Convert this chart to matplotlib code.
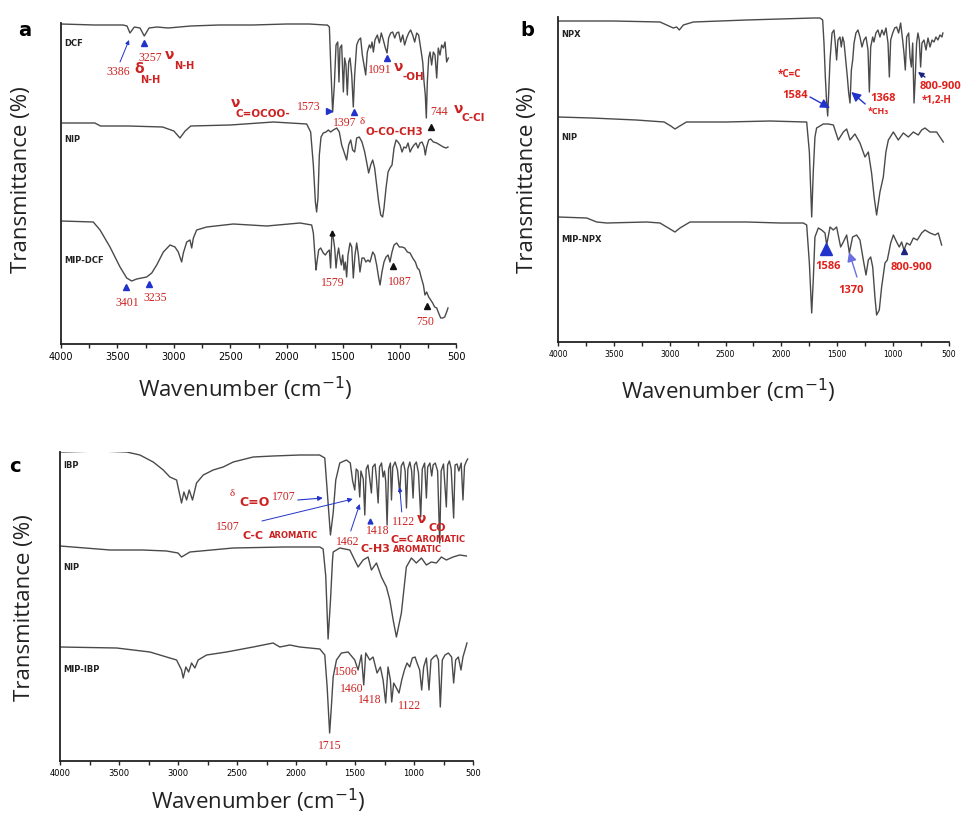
import matplotlib
matplotlib.use("Agg")
import matplotlib.pyplot as plt
from matplotlib.ticker import MultipleLocator

# Stacked FTIR spectra, transmittance in arbitrary units (offset per trace)

# (a) diclofenac
dcf_wn = [4000, 3700, 3450, 3415, 3389, 3350, 3300, 3262, 3220, 3150,
          3050, 2950, 2850, 2600, 2300, 2000, 1800, 1660, 1640, 1622,
          1610, 1593, 1578, 1563, 1548, 1537, 1528, 1513, 1498, 1487,
          1475, 1463, 1451, 1439, 1424, 1410, 1398, 1380, 1362, 1345,
          1330, 1315, 1300, 1286, 1268, 1256, 1244, 1232, 1218, 1197,
          1179, 1162, 1144, 1126, 1111, 1097, 1079, 1061, 1043, 1026,
          1008, 990, 972, 955, 937, 919, 902, 884, 866, 848,
          831, 813, 795, 783, 772, 763, 754, 742, 730, 716,
          701, 686, 671, 657, 642, 627, 612, 597, 583, 568]
dcf_t = [320, 319, 319, 318, 311, 317, 316, 308, 316, 317,
         316, 317, 318, 319, 319, 320, 320, 319, 319, 317,
         279, 232, 259, 299, 302, 262, 296, 299, 252, 286,
         279, 249, 282, 286, 269, 237, 269, 299, 304, 306,
         289, 279, 269, 292, 299, 296, 302, 292, 304, 309,
         301, 311, 304, 296, 291, 306, 311, 312, 306, 311,
         312, 302, 309, 299, 306, 311, 314, 309, 302, 311,
         309, 296, 282, 262, 249, 226, 262, 286, 292, 279,
         292, 289, 266, 296, 289, 299, 296, 302, 282, 286]

nip_a_wn = [4000, 3700, 3650, 3400, 3100, 3000, 2946, 2900, 2850, 2500,
            2119, 1823, 1788, 1764, 1746, 1735, 1723, 1711, 1696, 1676,
            1652, 1631, 1611, 1587, 1557, 1534, 1513, 1492, 1469, 1451,
            1433, 1416, 1398, 1380, 1357, 1333, 1309, 1292, 1274, 1256,
            1238, 1221, 1203, 1185, 1167, 1150, 1138, 1120, 1102, 1085,
            1067, 1049, 1031, 1014, 996, 978, 961, 943, 925, 907,
            890, 872, 854, 837, 819, 801, 783, 772, 760, 742,
            724, 701, 671, 642, 612, 588, 571]
nip_a_t = [221, 221, 218, 218, 217, 213, 206, 213, 218, 219,
           222, 220, 212, 179, 142, 132, 146, 189, 207, 211,
           212, 214, 212, 214, 216, 212, 199, 192, 184, 199,
           204, 194, 192, 206, 207, 202, 192, 182, 171, 179,
           184, 176, 159, 142, 129, 127, 136, 156, 172, 176,
           179, 196, 204, 202, 199, 192, 197, 196, 201, 192,
           196, 199, 201, 196, 201, 202, 197, 189, 197, 204,
           205, 202, 201, 199, 197, 196, 197]

mip_dcf_wn = [4000, 3714, 3654, 3566, 3477, 3418, 3374, 3329, 3241, 3196,
              3152, 3093, 3034, 2990, 2961, 2931, 2916, 2886, 2857, 2842,
              2827, 2798, 2709, 2473, 2177, 1882, 1779, 1764, 1749, 1740,
              1734, 1717, 1699, 1676, 1658, 1640, 1622, 1611, 1599, 1587,
              1575, 1563, 1551, 1540, 1528, 1516, 1504, 1492, 1481, 1469,
              1457, 1439, 1424, 1410, 1395, 1380, 1365, 1351, 1333, 1315,
              1298, 1280, 1262, 1238, 1221, 1203, 1185, 1173, 1156, 1138,
              1120, 1102, 1085, 1067, 1049, 1026, 1002, 978, 955, 931,
              907, 884, 860, 842, 825, 807, 789, 775, 760, 742,
              724, 707, 689, 671, 654, 636, 618, 600, 583, 571]
mip_dcf_t = [123, 122, 114, 97, 77, 66, 63, 65, 67, 71,
             79, 92, 99, 97, 92, 82, 91, 102, 104, 96,
             106, 114, 117, 120, 118, 121, 119, 111, 87, 74,
             80, 94, 96, 91, 89, 92, 94, 76, 112, 106,
             96, 76, 89, 96, 86, 79, 89, 74, 82, 67,
             89, 101, 97, 66, 89, 101, 89, 72, 86, 86,
             82, 84, 82, 92, 89, 79, 66, 59, 72, 82,
             87, 89, 82, 92, 99, 101, 97, 97, 96, 92,
             91, 86, 82, 76, 74, 66, 59, 49, 52, 47,
             44, 41, 37, 36, 31, 26, 26, 27, 32, 36]

# (b) naproxen
npx_wn = [4000, 3505, 3087, 3027, 2968, 2938, 2914, 2878, 2789, 2311,
          1715, 1655, 1631, 1619, 1607, 1595, 1586, 1577, 1565, 1547,
          1530, 1518, 1506, 1494, 1476, 1464, 1452, 1440, 1422, 1410,
          1398, 1386, 1374, 1362, 1350, 1333, 1315, 1297, 1279, 1261,
          1243, 1225, 1213, 1201, 1183, 1172, 1154, 1136, 1118, 1100,
          1082, 1064, 1046, 1034, 1022, 1004, 986, 969, 951, 933,
          915, 903, 891, 879, 861, 849, 837, 825, 813, 802,
          790, 778, 766, 754, 742, 724, 706, 688, 670, 652,
          634, 617, 599, 581, 563, 555]
npx_t = [321, 321, 320, 317, 314, 315, 312, 317, 320, 322,
         324, 324, 322, 299, 265, 239, 226, 249, 282, 309,
         312, 299, 282, 302, 305, 295, 305, 300, 279, 265,
         249, 239, 272, 282, 299, 309, 312, 305, 295, 302,
         305, 292, 250, 295, 305, 300, 309, 312, 305, 312,
         307, 314, 299, 265, 302, 309, 314, 315, 309, 319,
         302, 289, 272, 305, 309, 285, 275, 299, 239, 265,
         299, 309, 302, 275, 299, 302, 292, 304, 295, 302,
         300, 305, 302, 307, 305, 309]

nip_b_wn = [4000, 3700, 3300, 3050, 2990, 2953, 2910, 2850, 2500, 2100,
            1789, 1774, 1750, 1729, 1715, 1700, 1685, 1655, 1625, 1580,
            1535, 1491, 1446, 1416, 1386, 1342, 1297, 1252, 1222, 1193,
            1170, 1148, 1118, 1088, 1065, 1043, 998, 954, 909, 864,
            819, 775, 745, 715, 670, 611, 551]
nip_b_t = [225, 224, 222, 220, 216, 213, 216, 220, 220, 221,
           220, 220, 190, 125, 170, 205, 214, 216, 218, 218,
           217, 202, 210, 213, 202, 208, 199, 185, 190, 169,
           145, 127, 150, 165, 190, 202, 210, 202, 209, 205,
           210, 207, 212, 214, 210, 210, 200]

mip_npx_wn = [4000, 3743, 3654, 3564, 3206, 3087, 3027, 2953, 2908, 2818,
              2311, 2013, 1804, 1774, 1750, 1729, 1715, 1700, 1670, 1640,
              1610, 1595, 1565, 1536, 1506, 1470, 1446, 1416, 1392, 1363,
              1327, 1297, 1267, 1243, 1222, 1201, 1183, 1163, 1148, 1124,
              1103, 1073, 1052, 1022, 998, 969, 945, 924, 903, 879,
              849, 819, 784, 745, 715, 670, 625, 596, 566]
mip_npx_t = [125, 124, 120, 119, 120, 119, 115, 110, 114, 120,
             120, 119, 119, 117, 79, 29, 62, 105, 114, 112,
             109, 97, 115, 112, 115, 95, 100, 107, 89, 105,
             107, 102, 82, 67, 82, 85, 75, 45, 27, 32,
             55, 79, 82, 99, 107, 100, 95, 100, 92, 99,
             97, 104, 102, 109, 112, 109, 107, 109, 97]

# (c) ibuprofen
ibp_wn = [4000, 3661, 3435, 3323, 3210, 3125, 3069, 3012, 2970, 2950,
          2927, 2905, 2877, 2843, 2786, 2702, 2617, 2532, 2363, 2194,
          1968, 1800, 1756, 1728, 1708, 1685, 1663, 1629, 1573, 1540,
          1520, 1502, 1490, 1475, 1460, 1450, 1430, 1417, 1405, 1390,
          1375, 1361, 1350, 1330, 1318, 1304, 1292, 1275, 1262, 1250,
          1240, 1228, 1215, 1200, 1191, 1180, 1160, 1140, 1121, 1108,
          1090, 1075, 1064, 1052, 1035, 1020, 1008, 996, 980, 962,
          943, 930, 910, 895, 884, 865, 850, 838, 820, 800,
          782, 770, 750, 726, 715, 700, 685, 664, 652, 635,
          620, 600, 585, 572, 555, 545]
ibp_t = [309, 310, 309, 306, 299, 291, 284, 281, 258, 269,
         261, 271, 261, 278, 286, 291, 294, 299, 304, 305,
         306, 306, 303, 258, 226, 248, 281, 298, 301, 298,
         280, 271, 292, 290, 264, 290, 282, 246, 292, 296,
         282, 268, 294, 297, 282, 258, 294, 298, 284, 290,
         280, 236, 292, 298, 261, 294, 299, 291, 268, 295,
         299, 290, 253, 292, 299, 290, 263, 296, 299, 288,
         244, 292, 298, 263, 294, 298, 285, 296, 298, 290,
         218, 290, 297, 254, 296, 300, 292, 243, 296, 297,
         290, 298, 261, 295, 300, 302]

nip_c_wn = [4000, 3575, 3300, 3097, 3000, 2970, 2899, 2532, 2100, 1798,
            1770, 1748, 1728, 1708, 1691, 1685, 1629, 1544, 1474, 1431,
            1389, 1361, 1318, 1276, 1234, 1205, 1175, 1149, 1107, 1065,
            1022, 980, 937, 895, 853, 810, 768, 726, 669, 613,
            556]
nip_c_t = [215, 211, 211, 210, 208, 204, 209, 213, 214, 214,
           212, 185, 122, 160, 200, 209, 213, 211, 194, 201,
           204, 191, 198, 184, 174, 161, 140, 124, 148, 194,
           203, 198, 203, 196, 199, 198, 204, 201, 204, 206,
           205]

mip_ibp_wn = [4000, 3520, 3238, 3097, 3012, 2970, 2956, 2933, 2910, 2885,
              2857, 2829, 2758, 2589, 2363, 2194, 2137, 2052, 1968, 1798,
              1756, 1736, 1715, 1702, 1685, 1657, 1615, 1558, 1502, 1474,
              1446, 1426, 1409, 1375, 1347, 1313, 1285, 1262, 1240, 1220,
              1200, 1189, 1172, 1149, 1127, 1104, 1081, 1059, 1036, 1014,
              991, 974, 952, 935, 918, 895, 873, 856, 833, 810,
              793, 777, 760, 737, 709, 681, 664, 647, 624, 602,
              585, 568, 551]
mip_ibp_t = [114, 113, 109, 104, 101, 91, 83, 94, 89, 98,
             93, 101, 106, 109, 114, 118, 114, 116, 114, 112,
             106, 74, 28, 51, 84, 101, 108, 109, 101, 91,
             106, 76, 108, 101, 104, 88, 94, 81, 58, 94,
             81, 59, 78, 73, 68, 81, 91, 98, 94, 103,
             104, 98, 91, 71, 94, 103, 71, 101, 104, 106,
             101, 54, 101, 106, 108, 104, 78, 101, 104, 91,
             104, 111, 118]

LINE = "#4a4a4a"
RED = "#cc2222"
BRED = "#e0201b"
BLUE = "#2233cc"

fig = plt.figure(figsize=(9.62, 8.16), dpi=100)


def make_axes(rect, ytop, tick_size):
    ax = fig.add_axes(rect)
    ax.set_xlim(4000, 500)
    ax.set_ylim(0, ytop)
    for side in ("top", "right"):
        ax.spines[side].set_visible(False)
    for side in ("left", "bottom"):
        ax.spines[side].set_linewidth(1.3)
        ax.spines[side].set_color("#222222")
    ax.set_yticks([])
    ax.xaxis.set_major_locator(MultipleLocator(500))
    ax.xaxis.set_minor_locator(MultipleLocator(250))
    ax.tick_params(axis="x", which="both", direction="out", length=3,
                   width=1, color="#222222", labelsize=tick_size, pad=3)
    ax.patch.set_alpha(0)
    return ax


def trace(ax, wn, t, name, ylab):
    ax.plot(wn, t, color=LINE, lw=1.0)
    ax.text(3975, ylab, name, fontsize=6, fontweight="bold",
            color="#222222", va="center", ha="left")


def num(ax, x, y, s, size=8.5):
    ax.text(x, y, s, color=RED, fontsize=size, family="Liberation Serif",
            va="center", ha="left")


def sym(ax, x, y, s, size=9, color=RED):
    ax.text(x, y, s, color=color, fontsize=size, fontweight="bold",
            va="center", ha="left")


def arrow(ax, tip, tail, color=BLUE, lw=0.8, head=7):
    ax.annotate("", xy=tip, xytext=tail,
                arrowprops=dict(arrowstyle="-|>", color=color, lw=lw,
                                mutation_scale=head, shrinkA=0, shrinkB=0))


def mark(ax, x, y, m="^", color=BLUE, ms=4):
    ax.plot([x], [y], marker=m, color=color, ms=ms, ls="none")


# ---------------- panel a ----------------
ax = make_axes([61 / 962, 1 - 344 / 816, 395 / 962, 321 / 816], 321, 7)
trace(ax, dcf_wn, dcf_t, "DCF", 301)
trace(ax, nip_a_wn, nip_a_t, "NIP", 205)
trace(ax, mip_dcf_wn, mip_dcf_t, "MIP-DCF", 84)

num(ax, 3601, 272, "3386")
sym(ax, 3353, 275, "δ", 10)
sym(ax, 3300, 264, "N-H", 7)
num(ax, 3318, 286, "3257")
sym(ax, 3078, 289, "ν", 10)
sym(ax, 2999, 278, "N-H", 7)
arrow(ax, (3397, 304), (3477, 282), lw=0.7, head=6)
mark(ax, 3265, 301)
sym(ax, 2494, 241, "ν", 10)
sym(ax, 2458, 230, "C=OCOO-", 7.5)
num(ax, 1909, 237, "1573")
mark(ax, 1625, 233, ">")
num(ax, 1590, 221, "1397")
num(ax, 1351, 223, "δ", 8)
sym(ax, 1306, 212, "O-CO-CH3", 7.5)
mark(ax, 1404, 232)
num(ax, 1280, 274, "1091")
sym(ax, 1049, 277, "ν", 10)
sym(ax, 970, 267, "-OH", 7.5)
mark(ax, 1111, 286)
num(ax, 730, 232, "744")
sym(ax, 518, 235, "ν", 10)
sym(ax, 447, 226, "C-Cl", 7.5)
mark(ax, 721, 217, "^", "#111111")

num(ax, 3522, 41, "3401")
num(ax, 3273, 46, "3235")
mark(ax, 3424, 57)
mark(ax, 3220, 60)
num(ax, 1696, 61, "1579")
mark(ax, 1599, 111, "^", "#111111", 3.5)
num(ax, 1102, 62, "1087")
mark(ax, 1058, 78, "^", "#111111")
num(ax, 854, 22, "750")
mark(ax, 757, 38, "^", "#111111")

# ---------------- panel b ----------------
bx = make_axes([558 / 962, 1 - 342 / 816, 391 / 962, 325 / 816], 325, 5.5)
trace(bx, npx_wn, npx_t, "NPX", 308)
trace(bx, nip_b_wn, nip_b_t, "NIP", 205)
trace(bx, mip_npx_wn, mip_npx_t, "MIP-NPX", 103)

bfont = dict(color=BRED, fontsize=8, fontweight="bold", va="center",
             ha="left", family=["Open Sans", "DejaVu Sans"])
bx.text(2031, 268, "*C=C", **{**bfont, "fontsize": 7})
bx.text(1995, 247, "1584", **bfont)
arrow(bx, (1565, 234), (1744, 245), lw=1.0, head=14)
bx.text(1207, 244, "1368", **bfont)
bx.text(1225, 231, "*CH₃", **{**bfont, "fontsize": 6.5})
arrow(bx, (1375, 250), (1250, 238), lw=1.0, head=14)
bx.text(760, 256, "800-900", **bfont)
bx.text(742, 242, "*1,2-H", **{**bfont, "fontsize": 7})
arrow(bx, (778, 270), (715, 265), color="#1a237e", lw=1.0, head=8)

mark(bx, 1601, 93, "^", BLUE, 9)
bx.text(1700, 76, "1586", **bfont)
arrow(bx, (1395, 90), (1324, 65), color="#6a70e0", lw=1.0, head=14)
bx.text(1494, 52, "1370", **bfont)
bx.text(1019, 75, "800-900", **bfont)
mark(bx, 903, 91, "^", "#1a237e", 5)

# ---------------- panel c ----------------
cx = make_axes([60 / 962, 1 - 761 / 816, 413 / 962, 309 / 816], 309, 6)
trace(cx, ibp_wn, ibp_t, "IBP", 296)
trace(cx, nip_c_wn, nip_c_t, "NIP", 194)
trace(cx, mip_ibp_wn, mip_ibp_t, "MIP-IBP", 92)

num(cx, 2560, 268, "δ", 8)
sym(cx, 2484, 258, "C=O", 9)
num(cx, 2205, 264, "1707")
arrow(cx, (1773, 263), (1985, 261), lw=0.8, head=7)
num(cx, 2679, 234, "1507")
sym(cx, 2450, 225, "C-C", 8)
sym(cx, 2230, 225, "AROMATIC", 6)
arrow(cx, (1519, 262), (2289, 240), lw=0.7, head=7)
num(cx, 1663, 219, "1462")
sym(cx, 1451, 212, "C-H3", 8)
sym(cx, 1180, 212, "AROMATIC", 6)
arrow(cx, (1460, 257), (1536, 230), lw=0.7, head=7)
num(cx, 1409, 230, "1418")
sym(cx, 1197, 221, "C=", 8)
sym(cx, 1062, 221, "C AROMATIC", 6)
mark(cx, 1375, 240, "^", BLUE, 3.5)
num(cx, 1189, 239, "1122")
sym(cx, 980, 242, "ν", 10)
sym(cx, 875, 233, "CO", 8)
arrow(cx, (1121, 274), (1104, 249), lw=0.7, head=6)

num(cx, 1815, 15, "1715")
num(cx, 1680, 89, "1506")
num(cx, 1629, 72, "1460")
num(cx, 1477, 61, "1418")
num(cx, 1138, 55, "1122")

# ---------------- labels ----------------
lab = dict(fontsize=16, family="Open Sans", color="#222222",
           ha="center", va="center")
for x, y in [(22, 180), (528, 180), (25, 608)]:
    fig.text(x / 962, 1 - y / 816, "Transmittance (%)", rotation=90, **lab)
for x, y in [(245, 389), (728, 391), (258, 801)]:
    fig.text(x / 962, 1 - y / 816, "Wavenumber (cm$^{-1}$)", **lab)

for x, y, s in [(25, 30, "a"), (527, 30, "b"), (15, 466, "c")]:
    fig.text(x / 962, 1 - y / 816, s, fontsize=14, fontweight="bold",
             ha="center", va="center")

fig.savefig("out.png", dpi=100, facecolor="white")
